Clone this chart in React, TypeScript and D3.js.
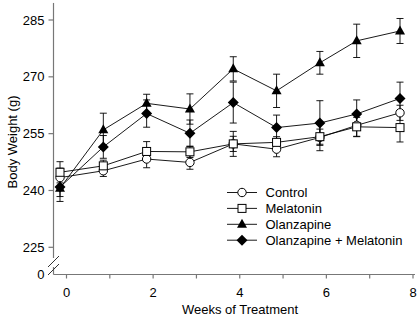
import React from "react";
import * as d3 from "d3";

const weeks = [-0.15, 0.85, 1.85, 2.85, 3.85, 4.85, 5.85, 6.7, 7.7];
const seriesNames = ["Control", "Melatonin", "Olanzapine", "Olanzapine + Melatonin"];
const control = [243.4, 245.2, 248.3, 247.4, 252.3, 250.9, 254.0, 257.2, 260.5];
const controlErr = [2.5, 1.5, 2.3, 1.8, 2.0, 2.0, 3.5, 3.0, 2.0];
const melatonin = [244.8, 246.5, 250.3, 250.2, 252.3, 252.7, 254.2, 256.8, 256.6];
const melatoninErr = [2.8, 1.5, 2.6, 1.5, 3.3, 1.5, 2.0, 2.5, 3.8];
const olanzapine = [240.6, 256.0, 263.0, 261.5, 272.1, 266.3, 273.7, 279.5, 282.1];
const olanzapineErr = [3.5, 4.4, 2.4, 4.0, 3.2, 4.4, 3.0, 4.4, 3.3];
const olzMel = [240.9, 251.5, 260.3, 255.1, 263.2, 256.6, 257.8, 260.2, 264.3];
const olzMelErr = [2.5, 3.0, 3.6, 3.5, 5.4, 3.3, 5.9, 3.7, 4.3];
const yTicks = [225, 240, 255, 270, 285];
const xMajorTicks = [0, 2, 4, 6, 8];
const xMinorTicks = [1, 3, 5, 7];

type Shape = "circle" | "square" | "triangle" | "diamond";

function Marker({ shape, x, y }: { shape: Shape; x: number; y: number }) {
  if (shape === "circle")
    return <circle cx={x} cy={y} r={4.2} fill="#fff" stroke="#000" strokeWidth={1} />;
  if (shape === "square")
    return <rect x={x - 4} y={y - 4} width={8} height={8} fill="#fff" stroke="#000" strokeWidth={1} />;
  if (shape === "triangle") {
    const p = d3.path();
    p.moveTo(x, y - 5.5);
    p.lineTo(x + 5, y + 3.5);
    p.lineTo(x - 5, y + 3.5);
    p.closePath();
    return <path d={p.toString()} fill="#000" />;
  }
  const p = d3.path();
  p.moveTo(x, y - 5.5);
  p.lineTo(x + 5.5, y);
  p.lineTo(x, y + 5.5);
  p.lineTo(x - 5.5, y);
  p.closePath();
  return <path d={p.toString()} fill="#000" />;
}

export default function App() {
  const W = 417;
  const H = 317;
  const x = d3.scaleLinear().domain([0, 8]).range([66.5, 413]);
  const y = d3.scaleLinear().domain([225, 285]).range([247.3, 20]);
  const axisX = 53.5;
  const xAxisY = 274.5;
  const axisColor = "#777";
  const font = "Liberation Sans, Arial, sans-serif";

  const series: { name: string; vals: number[]; err: number[]; shape: Shape }[] = [
    { name: seriesNames[0], vals: control, err: controlErr, shape: "circle" },
    { name: seriesNames[1], vals: melatonin, err: melatoninErr, shape: "square" },
    { name: seriesNames[2], vals: olanzapine, err: olanzapineErr, shape: "triangle" },
    { name: seriesNames[3], vals: olzMel, err: olzMelErr, shape: "diamond" },
  ];

  const line = d3
    .line<number>()
    .x((_, i) => x(weeks[i]))
    .y((d) => y(d));

  const legendX = 227;
  const legendY0 = 192.5;
  const legendDy = 15.9;

  return (
    <svg width={W} height={H} style={{ position: "absolute", left: 0, top: 0 }} fontFamily={font}>
      {/* Y axis */}
      <line x1={axisX} x2={axisX} y1={y(289.5)} y2={258} stroke={axisColor} strokeWidth={1.2} />
      <line x1={axisX} x2={axisX} y1={267} y2={xAxisY} stroke={axisColor} strokeWidth={1.2} />
      <line x1={48} y1={267} x2={59} y2={256} stroke="#333" strokeWidth={1} />
      <line x1={48} y1={275} x2={59} y2={264} stroke="#333" strokeWidth={1} />
      {yTicks.map((t) => (
        <g key={t}>
          <line x1={axisX - 5} x2={axisX} y1={y(t)} y2={y(t)} stroke={axisColor} strokeWidth={1.2} />
          <text x={axisX - 9} y={y(t)} fontSize={13} textAnchor="end" dominantBaseline="central" fill="#000">
            {t}
          </text>
        </g>
      ))}
      <text x={axisX - 9} y={xAxisY} fontSize={13} textAnchor="end" dominantBaseline="central" fill="#000">
        0
      </text>
      {/* X axis */}
      <line x1={axisX} x2={415} y1={xAxisY} y2={xAxisY} stroke={axisColor} strokeWidth={1.2} />
      {xMajorTicks.concat(xMinorTicks).map((t) => (
        <line key={t} x1={x(t)} x2={x(t)} y1={xAxisY} y2={xAxisY + 4} stroke={axisColor} strokeWidth={1.2} />
      ))}
      {xMajorTicks.map((t) => (
        <text key={t} x={x(t)} y={292} fontSize={13} textAnchor="middle" dominantBaseline="central" fill="#000">
          {t}
        </text>
      ))}
      <text x={240} y={309.5} fontSize={13} textAnchor="middle" dominantBaseline="central" fill="#000">
        Weeks of Treatment
      </text>
      <text
        transform="translate(12, 142) rotate(-90)"
        fontSize={13}
        textAnchor="middle"
        dominantBaseline="central"
        fill="#000"
      >
        Body Weight (g)
      </text>

      {/* Series */}
      {series.map((s) => (
        <g key={s.name}>
          <path d={line(s.vals) || ""} fill="none" stroke="#000" strokeWidth={0.9} />
          {s.vals.map((v, i) => {
            const cx = x(weeks[i]);
            const top = y(v + s.err[i]);
            const bot = y(v - s.err[i]);
            return (
              <g key={i} stroke="#000" strokeWidth={0.9}>
                <line x1={cx} x2={cx} y1={top} y2={bot} />
                <line x1={cx - 3.5} x2={cx + 3.5} y1={top} y2={top} />
                <line x1={cx - 3.5} x2={cx + 3.5} y1={bot} y2={bot} />
              </g>
            );
          })}
        </g>
      ))}
      {series.map((s) => (
        <g key={s.name + "-m"}>
          {s.vals.map((v, i) => (
            <Marker key={i} shape={s.shape} x={x(weeks[i])} y={y(v)} />
          ))}
        </g>
      ))}

      {/* Legend */}
      {series.map((s, i) => {
        const ly = legendY0 + i * legendDy;
        return (
          <g key={s.name + "-l"}>
            <line x1={legendX} x2={legendX + 30} y1={ly} y2={ly} stroke="#000" strokeWidth={0.9} />
            <Marker shape={s.shape} x={legendX + 15} y={ly} />
            <text x={265.5} y={ly} fontSize={13} dominantBaseline="central" fill="#000">
              {s.name}
            </text>
          </g>
        );
      })}
    </svg>
  );
}
